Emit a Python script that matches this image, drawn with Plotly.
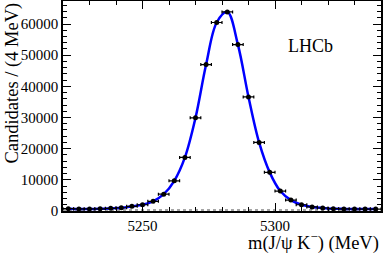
import numpy as np
import plotly.graph_objects as go

# Bin centres (MeV), 4 MeV bins
mass = [5222, 5226, 5230, 5234, 5238, 5242, 5246, 5250, 5254, 5258,
        5262, 5266, 5270, 5274, 5278, 5282, 5286, 5290, 5294, 5298,
        5302, 5306, 5310, 5314, 5318, 5322, 5326, 5330, 5334, 5338]
counts = [740, 680, 680, 700, 850, 1050, 1500, 2000, 3100, 5400,
          9700, 17200, 29900, 47000, 60500, 63900, 53400, 36600, 22000, 12400,
          6400, 3500, 2000, 1300, 970, 760, 680, 640, 620, 620]
# flat background component level
background = [300, 300]
bkg_mass = [5220, 5340]

err_y = [float(np.sqrt(c)) for c in counts]

fig = go.Figure()
fig.add_trace(go.Scatter(x=bkg_mass, y=background, mode="lines",
                         line=dict(color="#888888", width=1.5, dash="dot"),
                         hoverinfo="skip", showlegend=False))
fig.add_trace(go.Scatter(x=mass, y=counts, mode="lines",
                         line=dict(color="#0000ff", width=2.5, shape="spline", smoothing=1.0),
                         showlegend=False))
fig.add_trace(go.Scatter(x=mass, y=counts, mode="markers",
                         marker=dict(color="black", size=5),
                         error_x=dict(type="constant", value=2, color="black", thickness=1.2, width=1.5),
                         error_y=dict(type="data", array=err_y, color="black", thickness=1.2, width=0),
                         showlegend=False))

font_family = "Liberation Serif, Times New Roman, serif"
fig.update_layout(
    width=383, height=253,
    margin=dict(l=63, r=2, t=1, b=42, autoexpand=False),
    paper_bgcolor="white", plot_bgcolor="white",
    font=dict(family=font_family, size=15, color="black"),
    xaxis=dict(range=[5220, 5340], tickmode="array", tickvals=[5250, 5300],
               ticktext=["5250", "5300"], automargin=False,
               ticks="inside", ticklen=8, tickwidth=1, tickcolor="black",
               minor=dict(dtick=10, tick0=5220, ticks="inside", ticklen=4, tickcolor="black"),
               showline=True, linecolor="black", linewidth=1.5, mirror="ticks",
               showgrid=False, zeroline=False,
               tickfont=dict(family=font_family, size=15)),
    yaxis=dict(range=[0, 67400], tickmode="array",
               tickvals=[0, 10000, 20000, 30000, 40000, 50000, 60000],
               ticktext=["0", "10000", "20000", "30000", "40000", "50000", "60000"],
               automargin=False,
               ticks="inside", ticklen=8, tickwidth=1, tickcolor="black",
               minor=dict(dtick=2000, tick0=0, ticks="inside", ticklen=4, tickcolor="black"),
               showline=True, linecolor="black", linewidth=1.5, mirror="ticks",
               showgrid=False, zeroline=False,
               tickfont=dict(family=font_family, size=15)),
    annotations=[
        dict(text="m(J/ψ K<sup>−</sup>) (MeV)", xref="paper", yref="paper",
             x=1.0, y=-0.146, xanchor="right", yanchor="middle", showarrow=False,
             font=dict(family=font_family, size=18.5)),
        dict(text="Candidates / (4 MeV)", xref="paper", yref="paper",
             x=-0.16, y=1.0, xanchor="center", yanchor="top", textangle=-90,
             showarrow=False, font=dict(family=font_family, size=18.5)),
        dict(text="LHCb", xref="paper", yref="paper", x=0.779, y=0.787,
             xanchor="center", yanchor="middle", showarrow=False,
             font=dict(family=font_family, size=18)),
    ],
)
fig.write_html("out.html", config={"displayModeBar": False},
               post_script="document.body.style.margin='0px';document.body.style.padding='0px';")
